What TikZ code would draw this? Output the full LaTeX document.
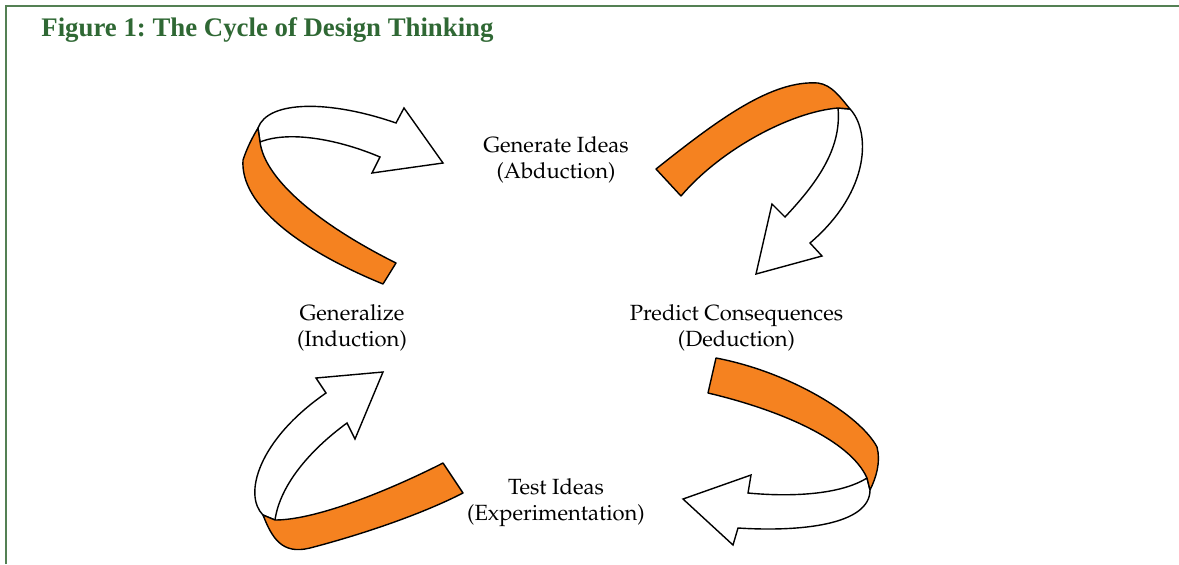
\documentclass[tikz,border=0pt]{standalone}
\usepackage[T1]{fontenc}
\usepackage{fontspec}
\setmainfont{Liberation Serif}
\frenchspacing
\newcommand{\palfont}{\fontencoding{T1}\fontfamily{ppl}\fontseries{m}\fontshape{n}\fontsize{11}{13}\selectfont}
\newcommand{\titlefont}{\fontsize{13.4}{16}\selectfont\bfseries}
\definecolor{ribbon}{RGB}{245,130,32}
\definecolor{framegreen}{RGB}{84,128,84}
\definecolor{titlegreen}{RGB}{47,104,52}
\begin{document}
\begin{tikzpicture}[x=0.5pt,y=-0.5pt,
  band/.style={draw=black,line width=0.7pt,fill=ribbon,line join=round},
  sheet/.style={draw=black,line width=0.7pt,fill=white,line join=miter},
  lbl/.style={inner sep=0pt,anchor=base,font=\palfont},
  frameline/.style={draw=framegreen,line width=1pt}]
\useasboundingbox (0,0) rectangle (1179,564);
% frame
\draw[frameline] (6,564) -- (6,5.5) -- (1179,5.5);
% title
\node[inner sep=0pt,anchor=base west,text=titlegreen,font=\titlefont] (title) at (41,36) {Figure 1: The Cycle of Design Thinking};
% labels
\node[lbl] (abd1) at (556,152.5) {Generate Ideas};
\node[lbl] (abd2) at (556,178.5) {(Abduction)};
\node[lbl] (ind1) at (352,320) {Generalize};
\node[lbl] (ind2) at (352,346) {(Induction)};
\node[lbl] (ded1) at (736.5,320) {Predict Consequences};
\node[lbl] (ded2) at (736.5,346) {(Deduction)};
\node[lbl] (exp1) at (556,494.5) {Test Ideas};
\node[lbl] (exp2) at (556,520.5) {(Experimentation)};
% arrow 1 (top left)
\draw[sheet] (258,128) .. controls (268,100) and (330,100) .. (396,123)
  -- (404,108) -- (443,163) -- (372,173) -- (380,157)
  .. controls (340,140) and (290,130) .. (260,142) -- cycle;
\draw[band] (258,128) .. controls (252,138) and (247,148) .. (243,160)
  .. controls (240,205) and (300,250) .. (383,284) -- (396,263)
  .. controls (320,225) and (265,180) .. (260,142) -- cycle;
% arrow 2 (top right)
\draw[sheet] (838,108) .. controls (842,150) and (815,185) .. (785,217)
  -- (772,204) -- (756,274) -- (822,256) -- (810,243)
  .. controls (872,190) and (870,130) .. (850,109) -- cycle;
\draw[band] (656,169) .. controls (720,118) and (772,80) .. (818,83)
  .. controls (832,85) and (840,97) .. (850,109) -- (838,108)
  .. controls (790,112) and (720,150) .. (681,196) -- cycle;
% arrow 3 (bottom left)
\draw[sheet] (263,515) .. controls (243,495) and (258,440) .. (326,393)
  -- (316,378) -- (383,372) -- (355,439) -- (347,423)
  .. controls (310,450) and (280,485) .. (275,520) -- cycle;
\draw[band] (263,515) .. controls (272,538) and (282,555) .. (310,548)
  .. controls (360,535) and (420,515) .. (463,493) -- (443,463)
  .. controls (400,485) and (320,520) .. (275,520) -- cycle;
% arrow 4 (bottom right)
\draw[sheet] (867,478) .. controls (840,495) and (790,497) .. (748,493)
  -- (751,475) -- (683,499) -- (733,545) -- (738,528)
  .. controls (800,532) and (870,525) .. (870,490) -- cycle;
\draw[band] (716,358) .. controls (790,372) and (860,415) .. (877,447)
  .. controls (881,462) and (876,478) .. (870,490) -- (867,478)
  .. controls (850,440) and (780,410) .. (708,393) -- cycle;
\end{tikzpicture}
\end{document}
